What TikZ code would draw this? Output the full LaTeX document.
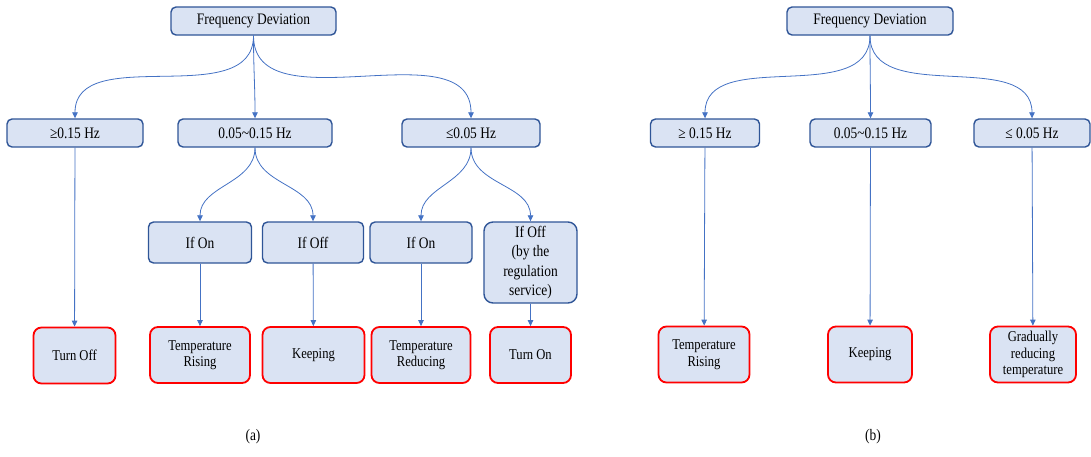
\documentclass[tikz,border=0pt]{standalone}
\usepackage{fontspec}
\setmainfont[FakeStretch=0.84]{Liberation Serif}
\usetikzlibrary{arrows.meta}
\definecolor{boxfill}{HTML}{DAE3F3}
\definecolor{condline}{HTML}{2F5597}
\definecolor{arrowblue}{HTML}{4472C4}
\begin{document}
\begin{tikzpicture}
  [x=1pt,y=-1pt,every node/.style={font=\fontsize{16}{19.5}\selectfont},
   cond/.style={draw=condline,fill=boxfill,line width=1.4pt,rounded corners=5pt,align=center,inner sep=0pt,minimum height=28},
   act/.style={draw=red,fill=boxfill,line width=1.8pt,rounded corners=8pt,align=center,inner sep=0pt,minimum height=56,font=\fontsize{15}{16.5}\selectfont},
   flow/.style={-{Triangle[length=6pt,width=5.5pt]},draw=arrowblue,line width=0.8pt}]
    \useasboundingbox (0,0) rectangle (1091,456);

    % (a)
    \node (fda)  [cond,minimum width=165] at (253.5,21) {Frequency Deviation};
    \node (ge)   [cond,minimum width=136] at (75,133)   {≥0.15 Hz};
    \node (mid)  [cond,minimum width=154] at (255,133)  {0.05\textasciitilde0.15 Hz};
    \node (le)   [cond,minimum width=138] at (471,133)  {≤0.05 Hz};
    \node (on1)  [cond,minimum width=103,minimum height=41] at (200,242.5) {If On};
    \node (off1) [cond,minimum width=101,minimum height=41] at (313,242.5) {If Off};
    \node (on2)  [cond,minimum width=102,minimum height=41] at (421,242.5) {If On};
    \node (off2) [cond,minimum width=93,minimum height=81,rounded corners=9pt] at (530.5,262.5) {If Off\\(by the\\regulation\\service)};
    \node (toff) [act,minimum width=82]  at (74.5,355.5) {Turn Off};
    \node (rise) [act,minimum width=100] at (200,355)   {Temperature\\Rising};
    \node (keep) [act,minimum width=102] at (313.5,355) {Keeping};
    \node (redu) [act,minimum width=99]  at (421,355)   {Temperature\\Reducing};
    \node (ton)  [act,minimum width=81]  at (530.5,355) {Turn On};

    % (b)
    \node (fdb)   [cond,minimum width=166] at (870,21)     {Frequency Deviation};
    \node (geb)   [cond,minimum width=109] at (705,133)    {≥ 0.15 Hz};
    \node (midb)  [cond,minimum width=121] at (870.5,133)  {0.05\textasciitilde0.15 Hz};
    \node (leb)   [cond,minimum width=116] at (1032,133)   {≤ 0.05 Hz};
    \node (riseb) [act,minimum width=91] at (704,354.5)  {Temperature\\Rising};
    \node (keepb) [act,minimum width=84] at (870,354.5)  {Keeping};
    \node (gradb) [act,minimum width=86] at (1033,354.5) {Gradually\\reducing\\temperature};

    \node (capa) at (253,437) {(a)};
    \node (capb) at (873,437) {(b)};

    \foreach \from/\to in {fda/ge,fda/mid,fda/le,mid/on1,mid/off1,le/on2,le/off2,fdb/geb,fdb/midb,fdb/leb}
      \draw[flow] (\from.south) to[out=-90,in=90] (\to.north);
    \foreach \from/\to in {ge/toff,on1/rise,off1/keep,on2/redu,off2/ton,geb/riseb,midb/keepb,leb/gradb}
      \draw[flow] (\from) -- (\to);
  \end{tikzpicture}
\end{document}
